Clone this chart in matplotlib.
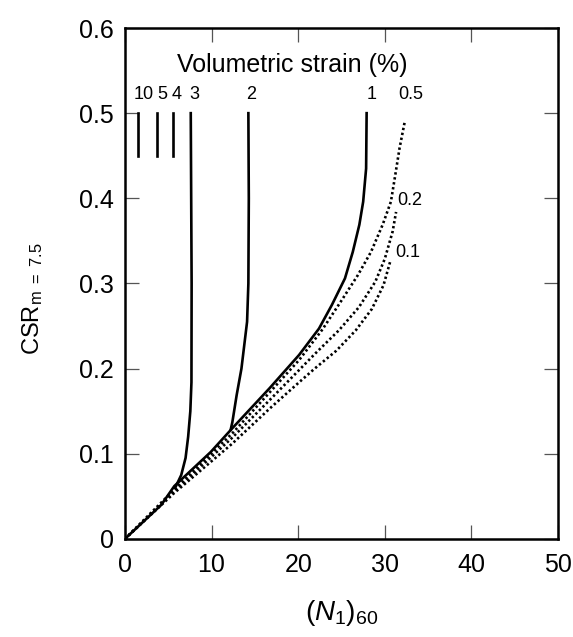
import matplotlib.pyplot as plt

plt.rcParams['font.family'] = ['Liberation Sans', 'DejaVu Sans']
plt.rcParams['mathtext.fontset'] = 'custom'
plt.rcParams['mathtext.rm'] = 'Liberation Sans'
plt.rcParams['mathtext.it'] = 'Liberation Sans:italic'

# curves: (N1)60 vs CSR for each volumetric strain
n_1 = [0, 4.2, 5.7, 9.9, 12.4, 16.7, 20.1, 22.4, 23.9, 25.4, 26.3, 27.06, 27.5, 27.84, 27.9]
csr_1 = [0, 0.04, 0.062, 0.102, 0.13, 0.177, 0.216, 0.247, 0.275, 0.306, 0.337, 0.369, 0.396, 0.435, 0.50]

n_2 = [12.2, 12.4, 12.9, 13.45, 14.1, 14.25, 14.3, 14.25]
csr_2 = [0.128, 0.137, 0.169, 0.20, 0.255, 0.30, 0.40, 0.50]

n_3 = [5.8, 6.5, 7.0, 7.3, 7.55, 7.68, 7.7, 7.65, 7.6]
csr_3 = [0.06, 0.075, 0.095, 0.12, 0.15, 0.184, 0.30, 0.40, 0.50]

n_05 = [0, 5.7, 12.4, 16.7, 20.1, 22.8, 25.0, 26.9, 28.4, 29.75, 30.7, 31.2, 31.7, 32.3]
csr_05 = [0, 0.058, 0.124, 0.172, 0.210, 0.246, 0.280, 0.31, 0.337, 0.369, 0.396, 0.427, 0.459, 0.49]

n_02 = [0, 5.7, 12.4, 16.7, 19.4, 22.0, 24.7, 27.0, 28.9, 30.0, 30.9, 31.3]
csr_02 = [0, 0.056, 0.119, 0.163, 0.191, 0.218, 0.245, 0.272, 0.302, 0.329, 0.361, 0.384]

n_01 = [0, 5.7, 12.4, 16.7, 20.0, 21.9, 24.4, 26.65, 28.5, 29.85, 30.6]
csr_01 = [0, 0.054, 0.112, 0.153, 0.183, 0.200, 0.221, 0.245, 0.27, 0.298, 0.325]

# short vertical lines for 10, 5, 4 %
short_n = [1.5, 3.7, 5.5]
short_lo, short_hi = 0.45, 0.50

strain_labels = ['10', '5', '4', '3', '2', '1', '0.5']
strain_label_n = [2.2, 4.3, 6.0, 8.0, 14.6, 28.5, 33.0]
dotted_labels = ['0.2', '0.1']
dotted_label_n = [32.9, 32.7]
dotted_label_csr = [0.398, 0.336]

fig = plt.figure(figsize=(5.73, 6.37), dpi=100)
ax = fig.add_axes([0.218, 0.154, 0.756, 0.802])

lw = 1.9
ax.plot(n_1, csr_1, color='black', lw=lw)
ax.plot(n_2, csr_2, color='black', lw=lw)
ax.plot(n_3, csr_3, color='black', lw=lw)
for x in short_n:
    ax.plot([x, x], [short_lo, short_hi], color='black', lw=lw)

for n, c in [(n_05, csr_05), (n_02, csr_02), (n_01, csr_01)]:
    ax.plot(n, c, color='black', lw=1.9, linestyle=(0, (0.9, 1.0)))

ax.text(19.3, 0.557, 'Volumetric strain (%)', ha='center', va='center', fontsize=18)
for lab, x in zip(strain_labels, strain_label_n):
    ax.text(x, 0.522, lab, ha='center', va='center', fontsize=13)
for lab, x, y in zip(dotted_labels, dotted_label_n, dotted_label_csr):
    ax.text(x, y, lab, ha='center', va='center', fontsize=13)

ax.set_xlim(0, 50)
ax.set_ylim(0, 0.6)
ax.set_xticks([0, 10, 20, 30, 40, 50])
ax.set_yticks([0, 0.1, 0.2, 0.3, 0.4, 0.5, 0.6])
ax.set_yticklabels(['0', '0.1', '0.2', '0.3', '0.4', '0.5', '0.6'])
ax.tick_params(direction='in', top=True, right=True, length=10, width=0.9,
               color='#555555', labelsize=18)
ax.tick_params(axis='x', pad=10)
ax.tick_params(axis='y', pad=8)
for s in ax.spines.values():
    s.set_linewidth(1.8)

ax.set_xlabel(r'$(N_1)_{60}$', fontsize=20, labelpad=15)
ax.set_ylabel(r'CSR$_{\mathrm{m\ =\ 7.5}}$', fontsize=17)
ax.yaxis.set_label_coords(-0.185, 0.47)

fig.savefig('out.png', dpi=100)
